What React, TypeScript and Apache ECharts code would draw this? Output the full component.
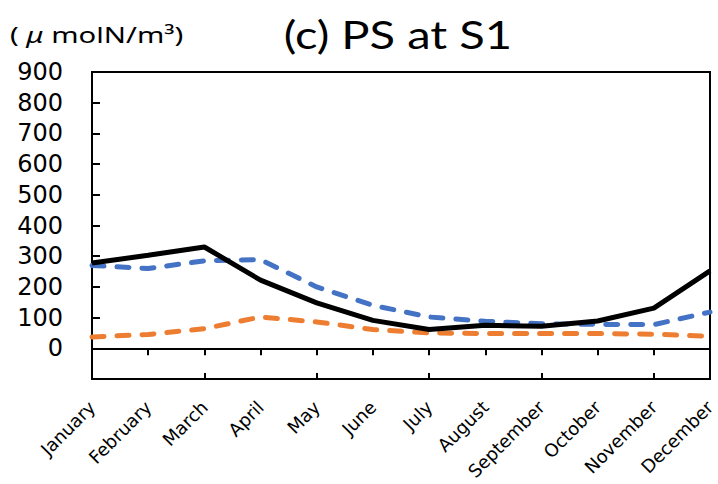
import React, { useEffect, useRef } from "react";
import * as echarts from "echarts";

const months = [
  "January", "February", "March", "April", "May", "June",
  "July", "August", "September", "October", "November", "December",
];
const blackSeries = [278, 303, 330, 222, 148, 91, 61, 75, 72, 89, 131, 252];
const blueSeries = [270, 260, 285, 289, 200, 140, 102, 88, 80, 78, 77, 118];
const orangeSeries = [37, 45, 64, 102, 86, 61, 50, 48, 48, 48, 46, 39];
const yMin = -100;
const yMax = 900;
const yStep = 100;
const titleText = "(c) PS at S1";
const unitText = "( {mu|μ} molN/m³)";

export default function App() {
  const ref = useRef<HTMLDivElement>(null);
  useEffect(() => {
    if (!ref.current) return;
    const chart = echarts.init(ref.current, null, { renderer: "svg" });
    const dashStyle = (color: string) => ({
      color,
      width: 5,
      type: [12, 13] as number[],
      cap: "round" as const,
    });
    chart.setOption({
      animation: false,
      backgroundColor: "#fff",
      graphic: [
        {
          type: "text",
          x: 398,
          y: 34,
          scaleX: 1.24,
          style: {
            text: titleText,
            fontFamily: "Lato",
            fontSize: 38,
            fill: "#000",
            textAlign: "center",
            textVerticalAlign: "middle",
          },
        },
        {
          type: "text",
          x: 10,
          y: 35,
          scaleX: 1.33,
          style: {
            text: unitText,
            fontFamily: "Noto Sans",
            fontSize: 22,
            fill: "#000",
            textAlign: "left",
            textVerticalAlign: "middle",
            rich: {
              mu: { fontFamily: "Noto Sans", fontSize: 22, fontStyle: "italic", fill: "#000" },
            },
          },
        },
      ],
      grid: {
        left: 92,
        right: 8,
        top: 72,
        bottom: 105,
        show: true,
        borderColor: "#000",
        borderWidth: 2,
        containLabel: false,
        outerBoundsMode: "none",
      },
      xAxis: [
        {
          type: "category",
          data: months,
          boundaryGap: false,
          position: "bottom",
          axisLine: { show: true, lineStyle: { color: "#000", width: 2 } },
          axisTick: { show: true, inside: false, length: 7, lineStyle: { color: "#000", width: 2 } },
          axisLabel: {
            rotate: 45,
            interval: 0,
            margin: 25,
            fontFamily: "DejaVu Sans",
            fontSize: 18,
            lineHeight: 10,
            color: "#000",
          },
          splitLine: { show: false },
        },
        {
          type: "category",
          data: months,
          boundaryGap: false,
          position: "bottom",
          axisLine: { show: false },
          axisTick: { show: true, inside: true, length: 6, lineStyle: { color: "#000", width: 2 } },
          axisLabel: { show: false },
          splitLine: { show: false },
        },
      ],
      yAxis: {
        type: "value",
        min: yMin,
        max: yMax,
        interval: yStep,
        axisLine: { show: true, lineStyle: { color: "#000", width: 2 } },
        axisTick: { show: true, inside: true, length: 8, lineStyle: { color: "#000", width: 2 } },
        axisLabel: {
          margin: 29,
          fontFamily: "DejaVu Sans",
          fontSize: 24,
          color: "#000",
          formatter: (v: number) => (v < 0 ? "" : String(v)),
        },
        splitLine: { show: false },
      },
      series: [
        {
          type: "line",
          data: orangeSeries,
          symbol: "none",
          lineStyle: dashStyle("#ED7D31"),
          z: 2,
        },
        {
          type: "line",
          data: blueSeries,
          symbol: "none",
          lineStyle: dashStyle("#4472C4"),
          z: 3,
        },
        {
          type: "line",
          data: blackSeries,
          symbol: "none",
          lineStyle: { color: "#000", width: 5, type: "solid" },
          z: 4,
        },
      ],
    });
    return () => chart.dispose();
  }, []);
  return (
    <div
      ref={ref}
      style={{ position: "fixed", left: 0, top: 0, width: 718, height: 484, background: "#fff" }}
    />
  );
}
